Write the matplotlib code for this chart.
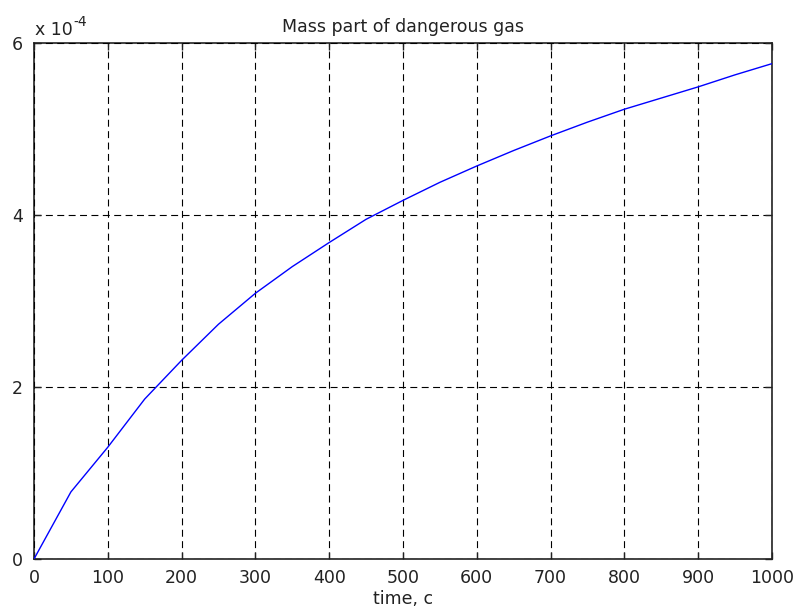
import matplotlib
matplotlib.use("Agg")
import matplotlib.pyplot as plt
from matplotlib.ticker import FuncFormatter

plt.rcParams['font.family'] = ['DejaVu Sans']

# Data
time_s = [0, 50, 100, 150, 200, 250, 300, 350, 400, 450, 500,
          550, 600, 650, 700, 750, 800, 850, 900, 950, 1000]
mass_e4 = [0.0, 0.78, 1.30, 1.86, 2.31, 2.73, 3.09, 3.40, 3.68, 3.95, 4.17,
           4.38, 4.57, 4.75, 4.92, 5.08, 5.23, 5.36, 5.49, 5.63, 5.76]
SCALE = 1e-4
mass = [v * SCALE for v in mass_e4]
x_ticks = [0, 100, 200, 300, 400, 500, 600, 700, 800, 900, 1000]
y_ticks_e4 = [0, 2, 4, 6]

title = "Mass part of dangerous gas"
xlabel = "time, c"
FS = 12.5
TXT = '#222222'

fig = plt.figure(figsize=(8.01, 6.10), dpi=100)
ax = fig.add_axes([34/801, 51/610, 738/801, 516/610])

ax.plot(time_s, mass, color='#0000ff', lw=1.0, zorder=3)

ax.set_xlim(0, 1000)
ax.set_ylim(0, 6 * SCALE)
ax.set_xticks(x_ticks)
ax.set_yticks([t * SCALE for t in y_ticks_e4])
ax.yaxis.set_major_formatter(FuncFormatter(lambda v, p: f"{v / SCALE:g}"))

lw = 0.8
ax.grid(True, color='black', lw=lw, linestyle=(0, (5.0 / lw, 3.2 / lw)))
ax.set_axisbelow(False)

for s in ax.spines.values():
    s.set_linewidth(1.2)
    s.set_color(TXT)

ax.tick_params(direction='in', length=5, width=1, top=True, right=True,
               labelsize=FS, pad=7, colors=TXT)
ax.tick_params(axis='y', pad=8)

ax.set_title(title, fontsize=FS, pad=8, color=TXT)
ax.set_xlabel(xlabel, fontsize=FS, labelpad=2, color=TXT)

ax.annotate("x 10", xy=(0, 1), xycoords='axes fraction', xytext=(1, 3),
            textcoords='offset points', fontsize=FS, ha='left', va='bottom', color=TXT)
ax.annotate("-4", xy=(0, 1), xycoords='axes fraction', xytext=(28, 10),
            textcoords='offset points', fontsize=FS * 0.8, ha='left', va='bottom', color=TXT)

fig.savefig("out.png", dpi=100)
